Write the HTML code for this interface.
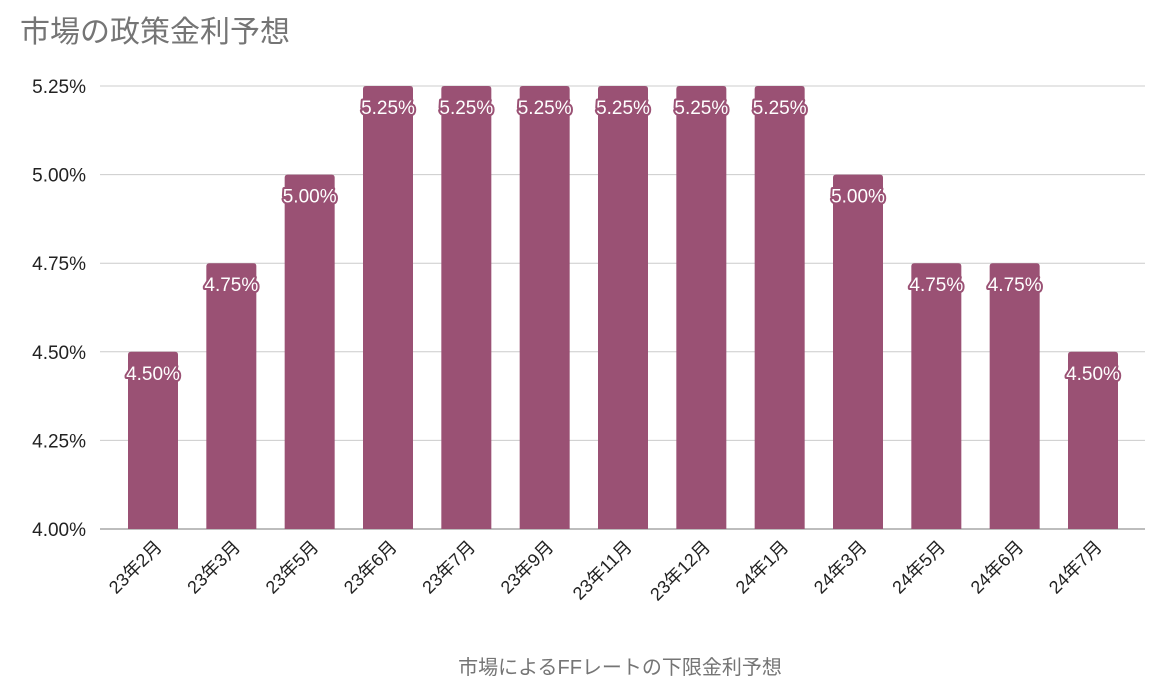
<!DOCTYPE html>
<html><head><meta charset="utf-8"><style>
body{margin:0;background:#fff;}
svg{display:block;font-family:"Liberation Sans","Noto Sans CJK JP",sans-serif;}
</style></head><body>
<svg id="c" width="1154" height="692">
<text x="20" y="42" font-size="30" fill="#757575">市場の政策金利予想</text>
<text x="620" y="674" font-size="20" fill="#757575" text-anchor="middle">市場によるFFレートの下限金利予想</text>
<g id="grid"></g><g id="bars"></g><g id="labels"></g>
</svg>
<script>
const categories=["23年2月","23年3月","23年5月","23年6月","23年7月","23年9月","23年11月","23年12月","24年1月","24年3月","24年5月","24年6月","24年7月"];
const values=[4.50,4.75,5.00,5.25,5.25,5.25,5.25,5.25,5.25,5.00,4.75,4.75,4.50];
const yTicks=[4.00,4.25,4.50,4.75,5.00,5.25];
const NS="http://www.w3.org/2000/svg";
const yMin=4.0,yMax=5.25,yTop=86,yBot=529,xL=100,xR=1145;
const y=v=>yBot-(v-yMin)/(yMax-yMin)*(yBot-yTop);
const step=(1093-153)/12;
const x=i=>153+i*step;
function mk(t,a,p){const e=document.createElementNS(NS,t);for(const k in a)e.setAttribute(k,a[k]);p.appendChild(e);return e;}
const grid=document.getElementById('grid'),bars=document.getElementById('bars'),labels=document.getElementById('labels');
yTicks.forEach(v=>{
 const l=mk('line',{x1:xL,x2:xR,y1:y(v),y2:y(v),stroke:v===yMin?'#bdbdbd':'#cccccc','stroke-width':v===yMin?2:1},grid);
 
 
 const t=mk('text',{x:86,y:y(v)+7,'font-size':19,'text-anchor':'end',fill:'#222'},grid);
 t.textContent=v.toFixed(2)+'%';
 
 
});
values.forEach((v,i)=>{
 const top=y(v);
 const b=mk('path',{d:`M${x(i)-25},${yBot} V${top+3} Q${x(i)-25},${top} ${x(i)-22},${top} H${x(i)+22} Q${x(i)+25},${top} ${x(i)+25},${top+3} V${yBot} Z`,fill:'#9a5174'},bars);
 
 
 const t=mk('text',{x:x(i),y:top+28,'font-size':19,'text-anchor':'middle',fill:'#fff',stroke:'#9a5174','stroke-width':4,'paint-order':'stroke','stroke-linejoin':'round'},labels);
 t.textContent=v.toFixed(2)+'%';
 
 
 const c=mk('text',{'font-size':18,'text-anchor':'end',fill:'#222',transform:`translate(${x(i)+10},${548}) rotate(-45)`},labels);
 c.textContent=categories[i];
 
 
});
</script>
</body></html>
